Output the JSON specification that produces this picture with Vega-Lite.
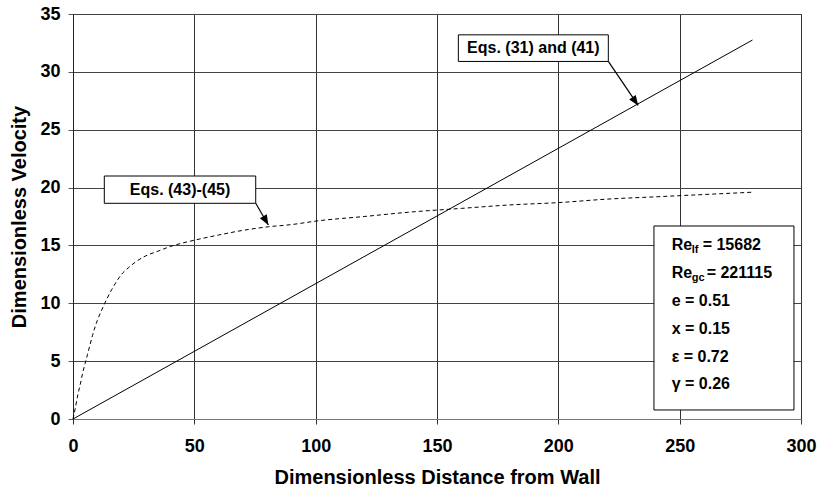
{
  "$schema": "https://vega.github.io/schema/vega-lite/v6.json",
  "width": 728,
  "height": 405,
  "autosize": {"type": "none"},
  "padding": {"left": 73, "top": 14, "right": 17, "bottom": 73},
  "config": {
    "view": {"stroke": "#777", "strokeWidth": 1},
    "font": "Liberation Sans",
    "text": {"font": "Liberation Sans", "fontWeight": "bold", "color": "#000"}
  },
  "datasets": {
    "curves": [
      {"series": "Eqs. (31) and (41)", "x": 0, "y": 0},
      {"series": "Eqs. (31) and (41)", "x": 280, "y": 32.75},
      {"series": "Eqs. (43)-(45)", "x": 0, "y": 0},
      {"series": "Eqs. (43)-(45)", "x": 1, "y": 1.0},
      {"series": "Eqs. (43)-(45)", "x": 2, "y": 2.1},
      {"series": "Eqs. (43)-(45)", "x": 3, "y": 3.0},
      {"series": "Eqs. (43)-(45)", "x": 4, "y": 4.0},
      {"series": "Eqs. (43)-(45)", "x": 5, "y": 4.8},
      {"series": "Eqs. (43)-(45)", "x": 6, "y": 5.6},
      {"series": "Eqs. (43)-(45)", "x": 7, "y": 6.4},
      {"series": "Eqs. (43)-(45)", "x": 8, "y": 7.2},
      {"series": "Eqs. (43)-(45)", "x": 10, "y": 8.5},
      {"series": "Eqs. (43)-(45)", "x": 12, "y": 9.5},
      {"series": "Eqs. (43)-(45)", "x": 14, "y": 10.4},
      {"series": "Eqs. (43)-(45)", "x": 16, "y": 11.2},
      {"series": "Eqs. (43)-(45)", "x": 18, "y": 11.9},
      {"series": "Eqs. (43)-(45)", "x": 20, "y": 12.5},
      {"series": "Eqs. (43)-(45)", "x": 23, "y": 13.1},
      {"series": "Eqs. (43)-(45)", "x": 26, "y": 13.6},
      {"series": "Eqs. (43)-(45)", "x": 30, "y": 14.1},
      {"series": "Eqs. (43)-(45)", "x": 35, "y": 14.5},
      {"series": "Eqs. (43)-(45)", "x": 40, "y": 14.9},
      {"series": "Eqs. (43)-(45)", "x": 45, "y": 15.2},
      {"series": "Eqs. (43)-(45)", "x": 50, "y": 15.45},
      {"series": "Eqs. (43)-(45)", "x": 60, "y": 15.9},
      {"series": "Eqs. (43)-(45)", "x": 70, "y": 16.3},
      {"series": "Eqs. (43)-(45)", "x": 80, "y": 16.6},
      {"series": "Eqs. (43)-(45)", "x": 90, "y": 16.8},
      {"series": "Eqs. (43)-(45)", "x": 100, "y": 17.1},
      {"series": "Eqs. (43)-(45)", "x": 120, "y": 17.5},
      {"series": "Eqs. (43)-(45)", "x": 140, "y": 17.9},
      {"series": "Eqs. (43)-(45)", "x": 160, "y": 18.2},
      {"series": "Eqs. (43)-(45)", "x": 180, "y": 18.5},
      {"series": "Eqs. (43)-(45)", "x": 200, "y": 18.7},
      {"series": "Eqs. (43)-(45)", "x": 220, "y": 19.0},
      {"series": "Eqs. (43)-(45)", "x": 240, "y": 19.2},
      {"series": "Eqs. (43)-(45)", "x": 260, "y": 19.4},
      {"series": "Eqs. (43)-(45)", "x": 280, "y": 19.6}
    ],
    "arrows": [
      {"id": "a1", "x": 220.6, "y": 30.9},
      {"id": "a1", "x": 232.9, "y": 27.1},
      {"id": "a2", "x": 75.3, "y": 18.64},
      {"id": "a2", "x": 80.5, "y": 16.77}
    ],
    "boxes": [
      {"name": "b1", "label": "Eqs. (31) and (41)", "x": 158.8, "x2": 220.6, "y": 33.2, "y2": 30.9},
      {"name": "b2", "label": "Eqs. (43)-(45)", "x": 12.9, "x2": 75.3, "y": 21.0, "y2": 18.64},
      {"name": "legend", "label": "", "x": 239.4, "x2": 297.1, "y": 16.68, "y2": 0.78}
    ],
    "legend": [
      {"line": 1, "lead": "Re", "sub": "lf", "rest": "= 15682", "x": 246.7, "y": 15.0},
      {"line": 2, "lead": "Re", "sub": "gc", "rest": "= 221115", "x": 246.7, "y": 12.6},
      {"line": 3, "lead": "e = 0.51", "x": 246.7, "y": 10.2},
      {"line": 4, "lead": "x = 0.15", "x": 246.7, "y": 7.8},
      {"line": 5, "lead": "ε = 0.72", "x": 246.7, "y": 5.4},
      {"line": 6, "lead": "γ = 0.26", "x": 246.7, "y": 3.0}
    ]
  },
  "layer": [
    {
      "data": {"name": "curves"},
      "transform": [{"filter": "datum.series === 'Eqs. (31) and (41)'"}],
      "mark": {"type": "line", "color": "#000", "strokeWidth": 1},
      "encoding": {
        "x": {
          "field": "x", "type": "quantitative",
          "scale": {"domain": [0, 300], "nice": false, "zero": false},
          "axis": {
            "title": "Dimensionless Distance from Wall",
            "values": [0, 50, 100, 150, 200, 250, 300],
            "grid": true, "gridColor": "#333", "gridWidth": 1, "gridOpacity": 1,
            "domainColor": "#777", "tickColor": "#333", "tickSize": 5,
            "labelFont": "Liberation Sans", "labelFontWeight": "bold", "labelFontSize": 18, "labelColor": "#000",
            "labelPadding": 13, "labelFlush": false, "labelOverlap": false,
            "titleFont": "Liberation Sans", "titleFontWeight": "bold", "titleFontSize": 20, "titleColor": "#000",
            "titlePadding": 12
          }
        },
        "y": {
          "field": "y", "type": "quantitative",
          "scale": {"domain": [0, 35], "nice": false, "zero": false},
          "axis": {
            "title": "Dimensionless Velocity",
            "values": [0, 5, 10, 15, 20, 25, 30, 35],
            "grid": true, "gridColor": "#444", "gridWidth": 1, "gridOpacity": 1,
            "domainColor": "#222", "tickColor": "#555", "tickSize": 5,
            "labelFont": "Liberation Sans", "labelFontWeight": "bold", "labelFontSize": 18, "labelColor": "#000",
            "labelPadding": 8, "labelFlush": false, "labelOverlap": false,
            "titleFont": "Liberation Sans", "titleFontWeight": "bold", "titleFontSize": 20, "titleColor": "#000",
            "titlePadding": 10
          }
        }
      }
    },
    {
      "data": {"name": "curves"},
      "transform": [{"filter": "datum.series === 'Eqs. (43)-(45)'"}],
      "mark": {"type": "line", "color": "#000", "strokeWidth": 1, "strokeDash": [4, 3], "interpolate": "monotone"},
      "encoding": {
        "x": {"field": "x", "type": "quantitative"},
        "y": {"field": "y", "type": "quantitative"}
      }
    },
    {
      "data": {"name": "arrows"},
      "mark": {"type": "line", "color": "#000", "strokeWidth": 1.2},
      "encoding": {
        "x": {"field": "x", "type": "quantitative"},
        "y": {"field": "y", "type": "quantitative"},
        "detail": {"field": "id"}
      }
    },
    {
      "data": {"name": "arrows"},
      "transform": [{"filter": "datum.id === 'a1' && datum.y < 28"}],
      "mark": {"type": "point", "shape": "M0,0 L-0.4,1 L0.4,1 Z", "filled": true, "color": "#000", "opacity": 1, "size": 400, "angle": 145},
      "encoding": {
        "x": {"field": "x", "type": "quantitative"},
        "y": {"field": "y", "type": "quantitative"}
      }
    },
    {
      "data": {"name": "arrows"},
      "transform": [{"filter": "datum.id === 'a2' && datum.y < 17"}],
      "mark": {"type": "point", "shape": "M0,0 L-0.4,1 L0.4,1 Z", "filled": true, "color": "#000", "opacity": 1, "size": 400, "angle": 150},
      "encoding": {
        "x": {"field": "x", "type": "quantitative"},
        "y": {"field": "y", "type": "quantitative"}
      }
    },
    {
      "data": {"name": "boxes"},
      "mark": {"type": "rect", "fill": "#fff", "stroke": "#000", "strokeWidth": 1},
      "encoding": {
        "x": {"field": "x", "type": "quantitative"},
        "x2": {"field": "x2"},
        "y": {"field": "y", "type": "quantitative"},
        "y2": {"field": "y2"}
      }
    },
    {
      "data": {"name": "boxes"},
      "transform": [{"filter": "datum.label !== ''"}, {"calculate": "(datum.x + datum.x2) / 2", "as": "cx"}, {"calculate": "(datum.y + datum.y2) / 2", "as": "cy"}],
      "mark": {"type": "text", "fontSize": 16, "fontWeight": "bold", "align": "center", "baseline": "middle", "color": "#000"},
      "encoding": {
        "x": {"field": "cx", "type": "quantitative"},
        "y": {"field": "cy", "type": "quantitative"},
        "text": {"field": "label"}
      }
    },
    {
      "data": {"name": "legend"},
      "mark": {"type": "text", "fontSize": 16, "fontWeight": "bold", "align": "left", "baseline": "middle", "color": "#000"},
      "encoding": {
        "x": {"field": "x", "type": "quantitative"},
        "y": {"field": "y", "type": "quantitative"},
        "text": {"field": "lead"}
      }
    },
    {
      "data": {"name": "legend"},
      "transform": [{"filter": "datum.sub"}],
      "mark": {"type": "text", "fontSize": 11, "fontWeight": "bold", "align": "left", "baseline": "middle", "dx": 20, "dy": 5, "color": "#000"},
      "encoding": {
        "x": {"field": "x", "type": "quantitative"},
        "y": {"field": "y", "type": "quantitative"},
        "text": {"field": "sub"}
      }
    },
    {
      "data": {"name": "legend"},
      "transform": [{"filter": "datum.line === 1"}],
      "mark": {"type": "text", "fontSize": 16, "fontWeight": "bold", "align": "left", "baseline": "middle", "dx": 31, "color": "#000"},
      "encoding": {
        "x": {"field": "x", "type": "quantitative"},
        "y": {"field": "y", "type": "quantitative"},
        "text": {"field": "rest"}
      }
    },
    {
      "data": {"name": "legend"},
      "transform": [{"filter": "datum.line === 2"}],
      "mark": {"type": "text", "fontSize": 16, "fontWeight": "bold", "align": "left", "baseline": "middle", "dx": 35, "color": "#000"},
      "encoding": {
        "x": {"field": "x", "type": "quantitative"},
        "y": {"field": "y", "type": "quantitative"},
        "text": {"field": "rest"}
      }
    }
  ]
}
